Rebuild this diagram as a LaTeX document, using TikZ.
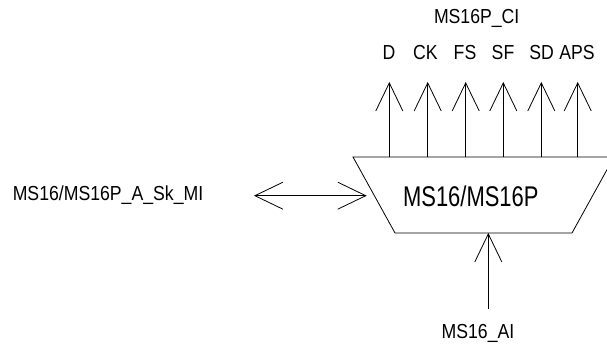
\documentclass[tikz,border=0pt]{standalone}
\usepackage{fontspec}
\setmainfont{Liberation Sans}
\usetikzlibrary{arrows.meta}
\newcommand{\narrowtxt}[2]{\scalebox{#1}[1]{#2}}
\begin{document}
\begin{tikzpicture}[x=1pt,y=-1pt,
  lbl/.style={inner sep=0pt,font=\fontsize{20.3}{22}\selectfont},
  big/.style={inner sep=0pt,font=\fontsize{28.5}{30}\selectfont},
  wire/.style={line width=0.8pt,black},
  sig/.style={wire,-{Straight Barb[length=28pt,width=27pt]}},
  bisig/.style={wire,{Straight Barb[length=28pt,width=27pt]}-{Straight Barb[length=28pt,width=27pt]}}]
\useasboundingbox (0,0) rectangle (607,347);
% trapezoid block
\coordinate (tl) at (353,157);
\coordinate (tr) at (614,157);
\coordinate (br) at (572,233);
\coordinate (bl) at (395,233);
\draw[wire] (tl) -- (tr) -- (br) -- (bl) -- cycle;
\node[big] (blk) at (470.8,196) {\narrowtxt{0.77}{MS16/MS16P}};
% top outputs
\foreach \n/\x in {d/389.3, ck/427.7, fs/465.7, sf/503.3, sd/541.3, aps/577.7}{
  \coordinate (\n b) at (\x,157);
  \coordinate (\n t) at (\x,82);
  \draw[sig] (\n b) -- (\n t);
}
\node[lbl] (lD) at (389,53) {\narrowtxt{0.87}{D}};
\node[lbl] (lCK) at (425.5,53) {\narrowtxt{0.87}{CK}};
\node[lbl] (lFS) at (465,53) {\narrowtxt{0.87}{FS}};
\node[lbl] (lSF) at (503,53) {\narrowtxt{0.87}{SF}};
\node[lbl] (lSD) at (541.7,53) {\narrowtxt{0.87}{SD}};
\node[lbl] (lAPS) at (577,53) {\narrowtxt{0.87}{APS}};
\node[lbl] (ci) at (476.7,18.5) {\narrowtxt{0.87}{MS16P\_CI}};
% left bidirectional
\coordinate (la) at (254,195.7);
\coordinate (ra) at (366.7,195.7);
\draw[bisig] (la) -- (ra);
\node[lbl] (mi) at (108,195) {\narrowtxt{0.87}{MS16/MS16P\_A\_Sk\_MI}};
% bottom input
\coordinate (ab) at (488.3,309);
\coordinate (at) at (488.3,233);
\draw[sig] (ab) -- (at);
\node[lbl] (ai) at (478,333) {\narrowtxt{0.87}{MS16\_AI}};
\end{tikzpicture}
\end{document}
